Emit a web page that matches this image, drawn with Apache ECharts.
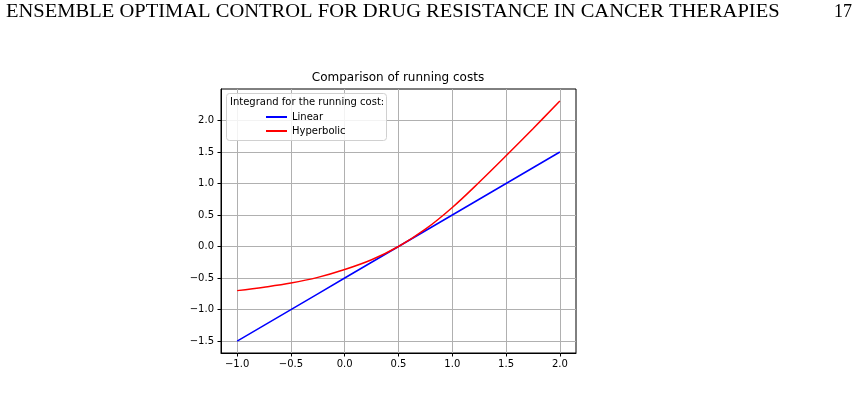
<!DOCTYPE html>
<html>
<head>
<meta charset="utf-8">
<script src="https://cdn.jsdelivr.net/npm/echarts@6/dist/echarts.min.js"></script>
<style>
html,body{margin:0;padding:0;background:#fff;}
#chart{width:857px;height:417px;}
</style>
</head>
<body>
<div id="chart"></div>
<script>
// ---- data ----
const xValues = [-1, -0.75, -0.5, -0.25, 0, 0.25, 0.5, 0.75, 1, 1.25, 1.5, 1.75, 2];
const linearValues = [-1.5, -1.25, -1.0, -0.75, -0.5, -0.25, 0, 0.25, 0.5, 0.75, 1.0, 1.25, 1.5];
const hyperbolicValues = [-0.70, -0.645, -0.58, -0.49, -0.365, -0.21, 0, 0.275, 0.62, 1.02, 1.44, 1.87, 2.31];
const xTicks = [-1.0, -0.5, 0.0, 0.5, 1.0, 1.5, 2.0];
const yTicks = [-1.5, -1.0, -0.5, 0.0, 0.5, 1.0, 1.5, 2.0];
const seriesNames = ['Linear', 'Hyperbolic'];
const legendTitle = 'Integrand for the running cost:';
const chartTitle = 'Comparison of running costs';
const headerText = 'ENSEMBLE OPTIMAL CONTROL FOR DRUG RESISTANCE IN CANCER THERAPIES';
const pageNumber = '17';

const fmt = v => (v < 0 ? '\u2212' : '') + Math.abs(v).toFixed(1);
const pairs = (xs, ys) => xs.map((x, i) => [x, ys[i]]);

const chart = echarts.init(document.getElementById('chart'), null, {renderer: 'canvas'});
const sans = 'DejaVu Sans';
const option = {
  animation: false,
  backgroundColor: '#fff',
  grid: {
    left: 221, right: 281, top: 89, bottom: 64,
    show: true, borderColor: '#000', borderWidth: 1, backgroundColor: 'transparent'
  },
  xAxis: {
    type: 'value', min: -1.15, max: 2.15, splitNumber: 6,
    axisLine: {show: true, onZero: false, lineStyle: {color: '#000', width: 1}},
    axisTick: {show: true, length: 3.5, lineStyle: {color: '#000'}, customValues: xTicks},
    axisLabel: {show: true, margin: 6, color: '#000', fontFamily: sans, fontSize: 10,
      customValues: xTicks, formatter: fmt},
    splitLine: {show: true, lineStyle: {color: '#b0b0b0', width: 1}}
  },
  yAxis: {
    type: 'value', min: -1.69, max: 2.50, splitNumber: 8,
    axisLine: {show: true, onZero: false, lineStyle: {color: '#000', width: 1}},
    axisTick: {show: true, length: 3.5, lineStyle: {color: '#000'}, customValues: yTicks},
    axisLabel: {show: true, margin: 7, color: '#000', fontFamily: sans, fontSize: 10,
      customValues: yTicks, formatter: fmt},
    splitLine: {show: true, lineStyle: {color: '#b0b0b0', width: 1}}
  },
  legend: {
    orient: 'vertical', left: 266, top: 111, padding: 0, itemGap: 2,
    itemWidth: 21, itemHeight: 2, icon: 'rect', z: 20,
    textStyle: {fontFamily: sans, fontSize: 10, color: '#000', lineHeight: 12},
    data: seriesNames
  },
  graphic: [
    {type: 'text', x: 6, y: 12, scaleX: 1.14, z: 10,
      style: {text: headerText, x: 0, y: 0, font: '18px "Liberation Serif"', fill: '#000',
        textAlign: 'left', textVerticalAlign: 'middle'}},
    {type: 'text', x: 852, y: 12, z: 10,
      style: {text: pageNumber, x: 0, y: 0, font: '18px "Liberation Serif"', fill: '#000',
        textAlign: 'right', textVerticalAlign: 'middle'}},
    {type: 'text', x: 398, y: 78, z: 10,
      style: {text: chartTitle, x: 0, y: 0, font: '12px "DejaVu Sans"', fill: '#000',
        textAlign: 'center', textVerticalAlign: 'middle'}},
    {type: 'rect', z: 15, shape: {x: 226.5, y: 93.5, width: 160, height: 47, r: 3},
      style: {fill: 'rgba(255,255,255,0.85)', stroke: '#d0d0d0', lineWidth: 1}},
    {type: 'text', x: 230, y: 102, z: 16,
      style: {text: legendTitle, x: 0, y: 0, font: '10px "DejaVu Sans"', fill: '#000',
        textAlign: 'left', textVerticalAlign: 'middle'}}
  ],
  series: [
    {name: seriesNames[0], type: 'line', data: pairs(xValues, linearValues), showSymbol: false, symbol: 'none',
      lineStyle: {color: '#0000ff', width: 1.5}, itemStyle: {color: '#0000ff'}, z: 3},
    {name: seriesNames[1], type: 'line', data: pairs(xValues, hyperbolicValues), showSymbol: false, symbol: 'none',
      smooth: 0.35, lineStyle: {color: '#ff0000', width: 1.5}, itemStyle: {color: '#ff0000'}, z: 4}
  ]
};
chart.setOption(option);
</script>
</body>
</html>
